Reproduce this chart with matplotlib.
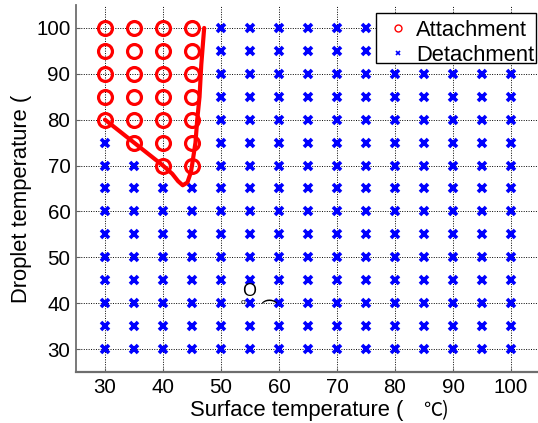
import matplotlib
matplotlib.use("Agg")
import matplotlib.pyplot as plt
from matplotlib.lines import Line2D
from matplotlib.patches import Rectangle

# ---- data ----
surface_temps = [30, 35, 40, 45, 50, 55, 60, 65, 70, 75, 80, 85, 90, 95, 100]
droplet_temps = [30, 35, 40, 45, 50, 55, 60, 65, 70, 75, 80, 85, 90, 95, 100]
# lowest droplet temperature that still attaches, per surface temperature
attach_min = {30: 80, 35: 75, 40: 70, 45: 70}

# boundary curve (red)
boundary_x = [30, 35, 40, 41.6, 42.6, 43.4, 44.2, 44.8, 45.0, 45.6, 45.9, 46.3, 46.6, 47.1]
boundary_y = [80, 75, 70, 68.2, 66.6, 65.7, 66.3, 68.5, 70, 75, 80, 85, 92, 100]

xticks = [30, 40, 50, 60, 70, 80, 90, 100]
yticks = [30, 40, 50, 60, 70, 80, 90, 100]
legend_labels = ["Attachment", "Detachment"]

att_x, att_y, det_x, det_y = [], [], [], []
for sx in surface_temps:
    for dy in droplet_temps:
        if sx in attach_min and dy >= attach_min[sx]:
            att_x.append(sx); att_y.append(dy)
        else:
            det_x.append(sx); det_y.append(dy)

FONT = "Liberation Sans"
FS_TICK = 14.8
FS = 15.8
plt.rcParams['font.family'] = [FONT, 'DejaVu Sans']

W, H = 538, 423
fig = plt.figure(figsize=(W / 100, H / 100), dpi=100)
ax = fig.add_axes([76 / W, 51 / H, 464 / W, 367 / H])

ax.plot(det_x, det_y, linestyle='none', marker='x', color='#0000ff',
        markersize=6.3, markeredgewidth=2.6, zorder=3)
ax.plot(att_x, att_y, linestyle='none', marker='o', markerfacecolor='none',
        markeredgecolor='#ff0000', markersize=10, markeredgewidth=2.3, zorder=3)
ax.plot(boundary_x, boundary_y, color='#ff0000', linewidth=3.0, zorder=4,
        solid_capstyle='round', solid_joinstyle='round')

ax.set_xlim(25, 105)
ax.set_ylim(25, 105)
ax.set_xticks(xticks)
ax.set_yticks(yticks)
ax.set_xticklabels([str(v) for v in xticks], fontsize=FS_TICK)
ax.set_yticklabels([str(v) for v in yticks], fontsize=FS_TICK)
ax.tick_params(direction='in', length=3, width=0.8, color='#606060', pad=4)
ax.grid(True, color='black', linestyle=(0, (1, 1.5)), linewidth=0.7)
ax.set_axisbelow(True)

for s in ['top', 'right']:
    ax.spines[s].set_visible(False)
ax.spines['left'].set_color('#6e6e6e')
ax.spines['left'].set_linewidth(1.3)
ax.spines['bottom'].set_color('#6e6e6e')
ax.spines['bottom'].set_linewidth(1.6)

def px(x, y):
    return x / W, 1 - y / H

# axis labels (text placed in figure pixels)
fig.text(*px(190, 416), "Surface temperature (", fontsize=FS,
         ha='left', va='baseline')
fig.text(*px(423, 416), "\u2103)", fontsize=FS - 2,
         family=['Noto Sans CJK SC', 'DejaVu Sans'], ha='left', va='baseline')
fig.text(*px(27, 303), "Droplet temperature (", fontsize=FS,
         rotation=90, ha='left', va='baseline', rotation_mode='anchor')

# stray glyph fragments in the plot area
fig.text(*px(249, 292), "O", fontsize=13, ha='center', va='center',
         color='black')
fig.text(*px(243, 302), "o", fontsize=6, ha='center', va='center',
         color='black')
fig.text(*px(270, 300), ")", fontsize=12, rotation=90, ha='center',
         va='center', color='black')

# legend box
x0, y0 = px(376, 63)
x1, y1 = px(536, 13)
fig.add_artist(Rectangle((x0, y0), x1 - x0, y1 - y0, transform=fig.transFigure,
                         facecolor='white', edgecolor='black', linewidth=1.0,
                         zorder=10))
mx, my = px(398, 28)
fig.add_artist(Line2D([mx], [my], transform=fig.transFigure, linestyle='none',
                      marker='o', markerfacecolor='none', markeredgecolor='#ff0000',
                      markersize=5, markeredgewidth=1.0, zorder=11))
mx, my = px(398, 53)
fig.add_artist(Line2D([mx], [my], transform=fig.transFigure, linestyle='none',
                      marker='x', color='#0000ff', markersize=3.5,
                      markeredgewidth=1.2, zorder=11))
fig.text(*px(416, 28), legend_labels[0], fontsize=FS, ha='left',
         va='center_baseline', zorder=12)
fig.text(*px(416, 53), legend_labels[1], fontsize=FS, ha='left',
         va='center_baseline', zorder=12)

fig.savefig("out.png", dpi=100)
